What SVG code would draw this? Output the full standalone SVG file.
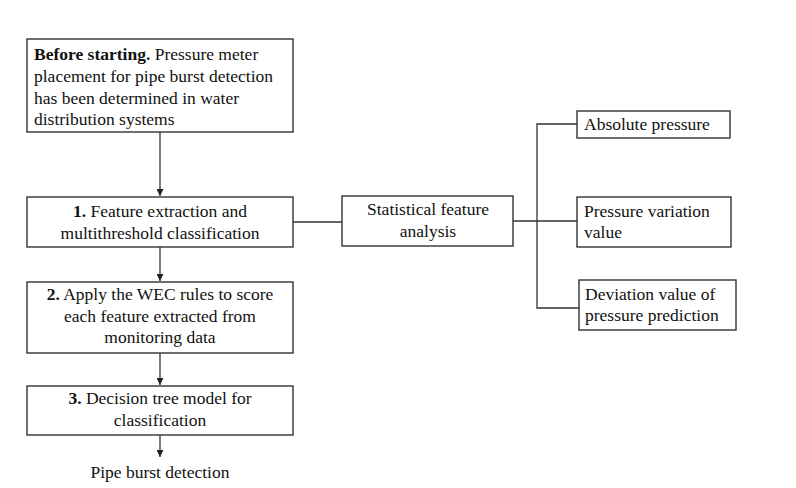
<svg xmlns="http://www.w3.org/2000/svg" width="796" height="488" viewBox="0 0 796 488">
<style>
.box{fill:#fff;stroke:#333;stroke-width:1.4}
.t{font-family:'Liberation Serif','Times New Roman','DejaVu Serif',serif;font-size:17.5px;fill:#111}
.c{text-anchor:middle}
.b{font-weight:bold}
.ln{fill:none;stroke:#333;stroke-width:1.3}
</style>
<defs>
<marker id="ah" viewBox="0 0 10 10" refX="10" refY="5" markerWidth="7" markerHeight="7" orient="auto" markerUnits="userSpaceOnUse">
<path d="M0,0 L10,5 L0,10 z" fill="#222"/>
</marker>
</defs>
<rect width="796" height="488" fill="#fff"/>
<g id="connectors">
<line class="ln" x1="160" y1="132" x2="160" y2="196" marker-end="url(#ah)"/>
<line class="ln" x1="160" y1="247" x2="160" y2="281" marker-end="url(#ah)"/>
<line class="ln" x1="160" y1="353" x2="160" y2="385" marker-end="url(#ah)"/>
<line class="ln" x1="160" y1="435" x2="160" y2="457" marker-end="url(#ah)"/>
<line class="ln" x1="293" y1="222" x2="342" y2="222"/>
<line class="ln" x1="513" y1="221" x2="577" y2="221"/>
<polyline class="ln" points="577,124 537,124 537,308 579,308"/>
</g>
<g id="n0">
<rect class="box" x="27" y="39" width="266" height="93"/>
<text class="t" x="34" y="60"><tspan class="b">Before starting.</tspan> Pressure meter</text>
<text class="t" x="34" y="82">placement for pipe burst detection</text>
<text class="t" x="34" y="104">has been determined in water</text>
<text class="t" x="34" y="125">distribution systems</text>
</g>
<g id="n1">
<rect class="box" x="27" y="197" width="266" height="50"/>
<text class="t c" x="160" y="217"><tspan class="b">1.</tspan> Feature extraction and</text>
<text class="t c" x="160" y="239">multithreshold classification</text>
</g>
<g id="n2">
<rect class="box" x="27" y="282" width="266" height="71"/>
<text class="t c" x="160" y="300"><tspan class="b">2.</tspan> Apply the WEC rules to score</text>
<text class="t c" x="160" y="322">each feature extracted from</text>
<text class="t c" x="160" y="343">monitoring data</text>
</g>
<g id="n3">
<rect class="box" x="27" y="386" width="266" height="49"/>
<text class="t c" x="160" y="404"><tspan class="b">3.</tspan> Decision tree model for</text>
<text class="t c" x="160" y="426">classification</text>
</g>
<g id="n4">
<text class="t c" x="160" y="478">Pipe burst detection</text>
</g>
<g id="n5">
<rect class="box" x="342" y="196" width="171" height="50"/>
<text class="t c" x="428" y="215">Statistical feature</text>
<text class="t c" x="428" y="237">analysis</text>
</g>
<g id="n6">
<rect class="box" x="577" y="111" width="153" height="27"/>
<text class="t" x="584" y="130">Absolute pressure</text>
</g>
<g id="n7">
<rect class="box" x="577" y="197" width="154" height="50"/>
<text class="t" x="584" y="217">Pressure variation</text>
<text class="t" x="584" y="238">value</text>
</g>
<g id="n8">
<rect class="box" x="579" y="280" width="157" height="50"/>
<text class="t" x="585" y="300">Deviation value of</text>
<text class="t" x="585" y="321">pressure prediction</text>
</g>
</svg>
